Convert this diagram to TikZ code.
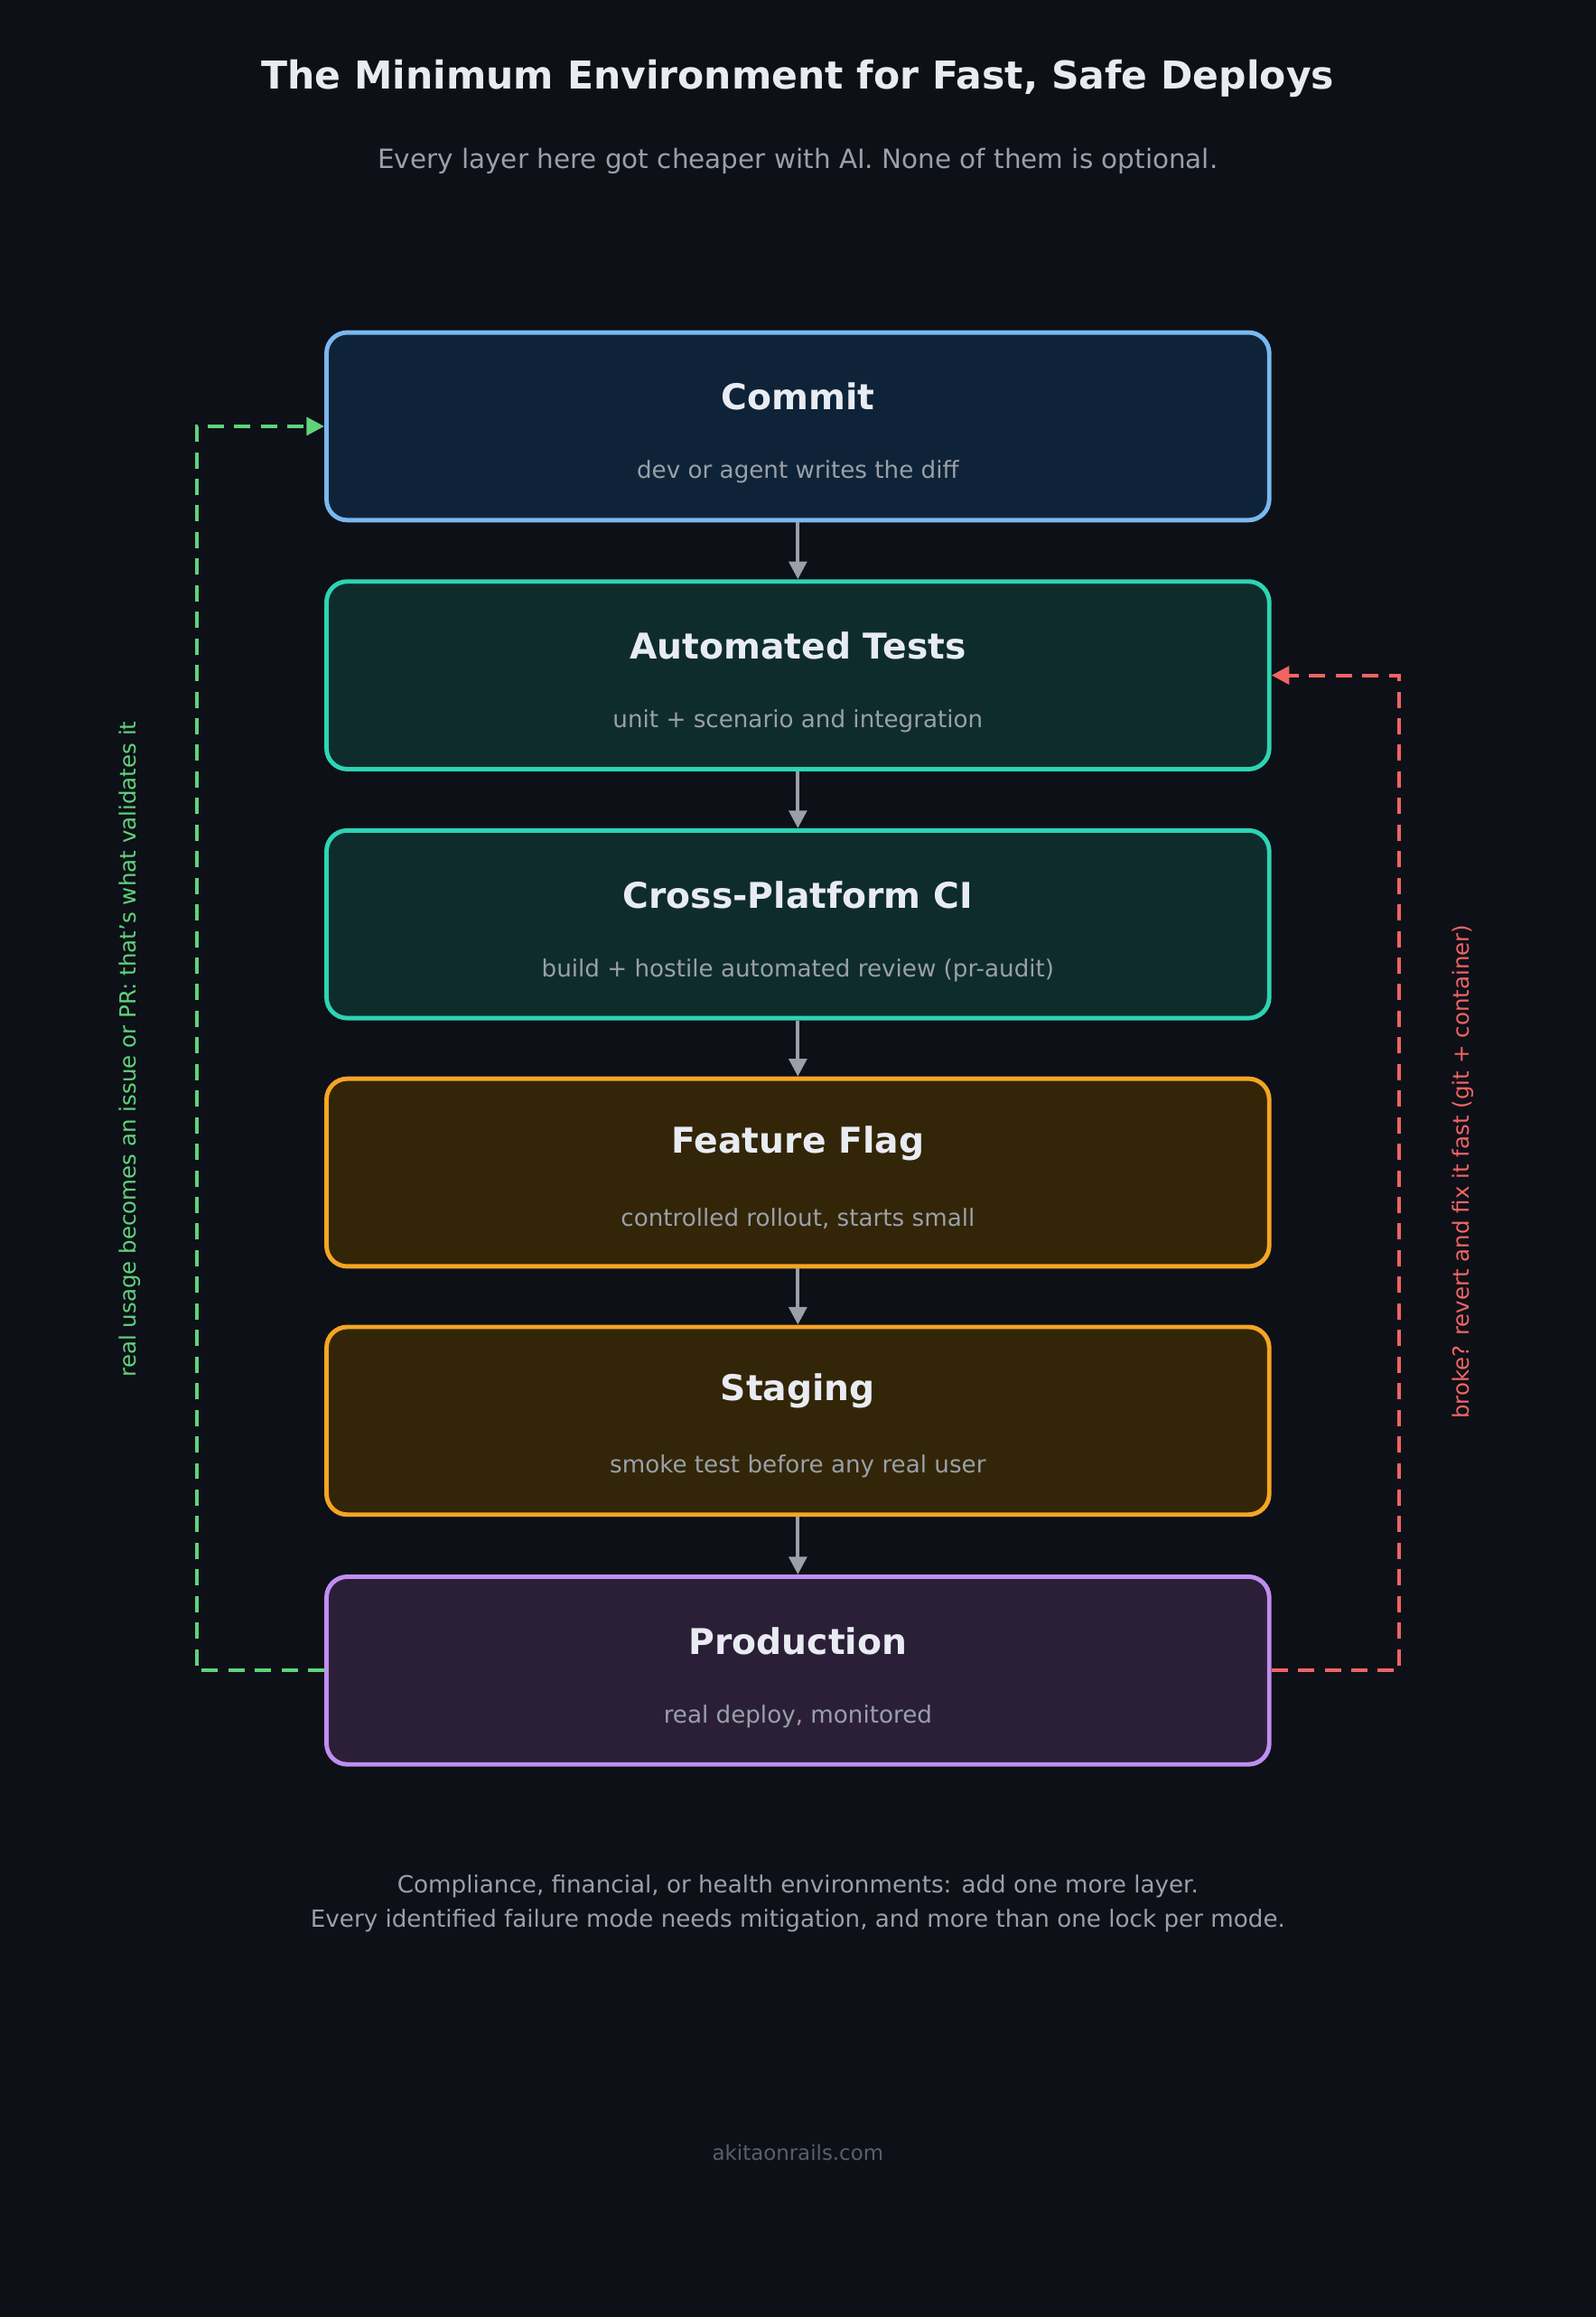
\documentclass[tikz,border=0pt]{standalone}
\usepackage{fontspec}
\setmainfont{DejaVu Sans}
\usetikzlibrary{arrows.meta}
\definecolor{bg}{HTML}{0D1017}
\definecolor{tx}{HTML}{E8ECF2}
\definecolor{gr}{HTML}{9AA0A8}
\definecolor{dg}{HTML}{5A6068}
\definecolor{cf}{HTML}{0F2338}\definecolor{cs}{HTML}{79B8F0}
\definecolor{tf}{HTML}{0F2C2C}\definecolor{ts}{HTML}{2DD4B4}
\definecolor{ff}{HTML}{332508}\definecolor{fs}{HTML}{F5A524}
\definecolor{pf}{HTML}{2B1F38}\definecolor{ps}{HTML}{C08EF0}
\definecolor{gl}{HTML}{5FD37A}\definecolor{rl}{HTML}{F06464}
\begin{document}
\begin{tikzpicture}[x=1pt,y=-1pt,
 box/.style={draw,line width=3pt,rounded corners=14pt,minimum width=638pt,minimum height=127pt,inner sep=0pt},
 ttl/.style={font=\fontsize{24}{28}\selectfont\bfseries,text=tx},
 sub/.style={font=\fontsize{16}{19}\selectfont,text=gr},
 flow/.style={draw=gr,line width=2.5pt,-{Triangle[length=12pt,width=12pt]}},
 loop/.style={line width=2.5pt,dash pattern=on 11pt off 7pt}]
\fill[bg] (0,0) rectangle (1080,1568);
\useasboundingbox (0,0) rectangle (1080,1568);
\node[font=\fontsize{26}{30}\selectfont\bfseries,text=tx] (title) at (540,53) {The Minimum Environment for Fast, Safe Deploys};
\node[font=\fontsize{18}{22}\selectfont,text=gr] (subt) at (540,109) {Every layer here got cheaper with AI. None of them is optional.};
\foreach \n/\y/\f/\s/\t/\u in {
 c/288.5/cf/cs/Commit/dev or agent writes the diff,
 t/457/tf/ts/Automated Tests/unit + scenario and integration,
 ci/625.5/tf/ts/Cross-Platform CI/build + hostile automated review (pr-audit),
 ff/793.5/ff/fs/Feature Flag/{controlled rollout, starts small},
 s/961.5/ff/fs/Staging/smoke test before any real user,
 p/1130.5/pf/ps/Production/{real deploy, monitored}}{
 \node[box,fill=\f,draw=\s] (\n) at (540,\y) {};
 \node[ttl] (\n t) at (540,\y-20) {\t};
 \node[sub] (\n s) at (540,\y+31) {\u};
}
\foreach \a/\b in {c/t,t/ci,ci/ff,ff/s,s/p}{\draw[flow] (\a.south) -- (\b.north);}
\coordinate (gl1) at (133,1130.5); \coordinate (gl2) at (133,288.5);
\draw[loop,draw=gl,-{Triangle[length=12pt,width=12pt]}] (p.west) -- (gl1) -- (gl2) -- (c.west);
\coordinate (rl1) at (947,1130.5); \coordinate (rl2) at (947,457);
\draw[loop,draw=rl,-{Triangle[length=12pt,width=12pt]}] (p.east) -- (rl1) -- (rl2) -- (t.east);
\node[rotate=90,font=\fontsize{15}{18}\selectfont,text=gl] (gll) at (88,710) {real usage becomes an issue or PR: that's what validates it};
\node[rotate=90,font=\fontsize{15}{18}\selectfont,text=rl] (rll) at (990,793) {broke? revert and fix it fast (git + container)};
\node[font=\fontsize{16}{23}\selectfont,text=gr,align=center] (foot) at (540,1288) {Compliance, financial, or health environments: add one more layer.\\Every identified failure mode needs mitigation, and more than one lock per mode.};
\node[font=\fontsize{14}{17}\selectfont,text=dg] (site) at (540,1457) {akitaonrails.com};
\end{tikzpicture}
\end{document}
